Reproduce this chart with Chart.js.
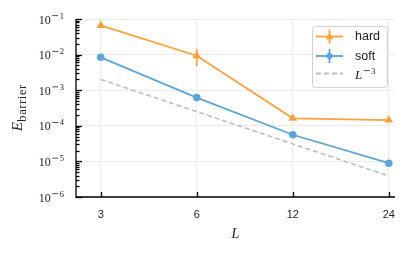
<!DOCTYPE html>
<html>
<head>
<meta charset="utf-8">
<script src="https://cdn.jsdelivr.net/npm/chart.js@4.4.1/dist/chart.umd.min.js"></script>
<style>
  html, body { margin: 0; padding: 0; background: #fff; }
</style>
</head>
<body>
<canvas id="chart" width="411" height="254"></canvas>
<script>
// --- data ---
const sizes = [3, 6, 12, 24];
const hard = [0.066, 0.0093, 1.62e-4, 1.45e-4];
const hardLo = [0.063, 0.0048, 1.56e-4, 1.40e-4];
const hardHi = [0.069, 0.0144, 1.68e-4, 1.50e-4];
const soft = [8.4e-3, 6.2e-4, 5.6e-5, 8.9e-6];
const softLo = [8.0e-3, 5.9e-4, 5.3e-5, 8.5e-6];
const softHi = [8.8e-3, 6.5e-4, 5.9e-5, 9.3e-6];
const guide = [2.0e-3, 2.5e-4, 3.1e-5, 3.9e-6];
const yExponents = [-6, -5, -4, -3, -2, -1];
const seriesLabels = ['hard', 'soft', 'L^-3'];

const ORANGE = '#f9a13b';
const BLUE = '#5ca4d9';
const GREY = '#bdbdbd';
const SERIF = '"Liberation Serif", "DejaVu Serif", serif';
const SANS = '"Liberation Sans", Arial, sans-serif';

const pts = (ys) => sizes.map((x, i) => ({ x: x, y: ys[i] }));

// base with a raised "−n" exponent; minus drawn a bit wider like TeX math
function drawPower(ctx, base, digit, x, y, baseFont, align) {
    ctx.save();
    ctx.textAlign = 'left';
    ctx.textBaseline = 'alphabetic';
    ctx.font = '8.5px ' + SERIF;
    const dw = ctx.measureText(digit).width;
    ctx.font = baseFont;
    const bw = ctx.measureText(base).width;
    const minusW = 6;
    const total = bw + 1.5 + minusW + 1.5 + dw;
    const left = align === 'right' ? x - total : x;
    ctx.fillText(base, left, y);
    const mx = left + bw + 1.5;
    ctx.fillRect(mx, y - 8.2, minusW, 0.8);
    ctx.font = '8.5px ' + SERIF;
    ctx.fillText(digit, mx + minusW + 1.5, y - 5);
    ctx.restore();
}

const axesDeco = {
    id: 'axesDeco',
    afterDatasetsDraw(chart) {
        const ctx = chart.ctx;
        const xs = chart.scales.x, ys = chart.scales.y;

        // error bars
        const bars = [[hardLo, hardHi, ORANGE], [softLo, softHi, BLUE]];
        ctx.save();
        ctx.lineWidth = 1.8;
        bars.forEach(([lo, hi, col]) => {
            ctx.strokeStyle = col;
            sizes.forEach((s, i) => {
                const px = xs.getPixelForValue(s);
                ctx.beginPath();
                ctx.moveTo(px, ys.getPixelForValue(lo[i]));
                ctx.lineTo(px, ys.getPixelForValue(hi[i]));
                ctx.stroke();
            });
        });
        ctx.restore();
    },
    afterDraw(chart) {
        const ctx = chart.ctx;
        const xs = chart.scales.x, ys = chart.scales.y;
        const area = chart.chartArea;
        ctx.save();
        ctx.strokeStyle = '#000';
        ctx.lineWidth = 1.3;

        // spines
        ctx.beginPath();
        ctx.moveTo(area.left, area.top);
        ctx.lineTo(area.left, area.bottom);
        ctx.lineTo(area.right, area.bottom);
        ctx.stroke();

        // inward ticks
        ys.ticks.forEach(t => {
            const py = Math.round(ys.getPixelForValue(t.value)) + 0.5;
            ctx.beginPath();
            ctx.moveTo(area.left, py);
            ctx.lineTo(area.left + (t.major ? 6 : 3.5), py);
            ctx.stroke();
        });
        xs.ticks.forEach(t => {
            const px = Math.round(xs.getPixelForValue(t.value)) + 0.5;
            ctx.beginPath();
            ctx.moveTo(px, area.bottom);
            ctx.lineTo(px, area.bottom - 5);
            ctx.stroke();
        });

        // y tick labels 10^n
        ctx.fillStyle = '#222';
        yExponents.forEach(e => {
            const py = ys.getPixelForValue(Math.pow(10, e));
            drawPower(ctx, '10', String(Math.abs(e)), 64, py + 4.5, '12px ' + SERIF, 'right');
        });

        // y title E_barrier
        ctx.save();
        ctx.translate(22, (area.top + area.bottom) / 2);
        ctx.rotate(-Math.PI / 2);
        ctx.font = 'italic 15px ' + SERIF;
        const ew = ctx.measureText('E').width;
        ctx.font = '12.5px ' + SERIF;
        ctx.letterSpacing = '0.6px';
        const bw = ctx.measureText('barrier').width;
        const start = -(ew + bw) / 2;
        ctx.textBaseline = 'alphabetic';
        ctx.fillText('barrier', start + ew + 0.5, 3.5);
        ctx.letterSpacing = '0px';
        ctx.font = 'italic 15px ' + SERIF;
        ctx.fillText('E', start, 0);
        ctx.restore();

        // x title
        ctx.font = 'italic 14px ' + SERIF;
        ctx.textAlign = 'center';
        ctx.fillText('L', (area.left + area.right) / 2, 238);

        // legend
        const lx = 312, ly = 26, lw = 75, lh = 61;
        ctx.fillStyle = 'rgba(255,255,255,0.85)';
        ctx.strokeStyle = '#d0d0d0';
        ctx.lineWidth = 1;
        ctx.beginPath();
        ctx.roundRect(lx + 0.5, ly + 0.5, lw, lh, 3);
        ctx.fill();
        ctx.stroke();

        const rows = [36.5, 56, 73.5];
        const cols = [ORANGE, BLUE, GREY];
        rows.forEach((ry, i) => {
            ctx.strokeStyle = cols[i];
            ctx.lineWidth = 1.8;
            ctx.setLineDash(i === 2 ? [5, 3] : []);
            ctx.beginPath();
            ctx.moveTo(316, ry);
            ctx.lineTo(343, ry);
            ctx.stroke();
            ctx.setLineDash([]);
            if (i < 2) {
                ctx.beginPath();
                ctx.moveTo(329.5, ry - 7);
                ctx.lineTo(329.5, ry + 7);
                ctx.stroke();
                ctx.fillStyle = cols[i];
                ctx.beginPath();
                if (i === 0) {
                    ctx.moveTo(329.5, ry - 3.8);
                    ctx.lineTo(333.3, ry + 2.7);
                    ctx.lineTo(325.7, ry + 2.7);
                    ctx.closePath();
                } else {
                    ctx.arc(329.5, ry, 3, 0, Math.PI * 2);
                }
                ctx.fill();
            }
            ctx.fillStyle = '#222';
            if (i < 2) {
                ctx.font = '12.5px ' + SANS;
                ctx.textAlign = 'left';
                ctx.textBaseline = 'middle';
                ctx.fillText(seriesLabels[i], 355, ry + 0.5);
            } else {
                drawPower(ctx, 'L', '3', 355, ry + 5, 'italic 13px ' + SERIF, 'left');
            }
        });
        ctx.restore();
    }
};

new Chart(document.getElementById('chart'), {
    type: 'line',
    data: {
        datasets: [
            { label: seriesLabels[0], data: pts(hard), borderColor: ORANGE, backgroundColor: ORANGE,
              borderWidth: 1.8, pointStyle: 'triangle', pointRadius: 5, pointBorderWidth: 0 },
            { label: seriesLabels[1], data: pts(soft), borderColor: BLUE, backgroundColor: BLUE,
              borderWidth: 1.8, pointStyle: 'circle', pointRadius: 3.8, pointBorderWidth: 0 },
            { label: seriesLabels[2], data: pts(guide), borderColor: GREY, backgroundColor: GREY,
              borderWidth: 1.6, borderDash: [5, 3], pointRadius: 0 }
        ]
    },
    options: {
        responsive: false,
        animation: false,
        devicePixelRatio: 1,
        layout: { padding: { top: 19, right: 16, left: 0, bottom: 0 } },
        plugins: { legend: { display: false }, tooltip: { enabled: false } },
        scales: {
            x: {
                type: 'logarithmic',
                min: 2.51, max: 25.1,
                afterBuildTicks: s => { s.ticks = sizes.map(v => ({ value: v })); },
                afterFit: s => { s.height = 57; },
                ticks: { autoSkip: false, maxRotation: 0, padding: 11, color: '#222',
                         font: { family: SANS, size: 11 }, callback: v => String(v) },
                grid: { color: '#ececec', lineWidth: 1, drawTicks: false },
                border: { display: false }
            },
            y: {
                type: 'logarithmic',
                min: 1e-6, max: 1e-1,
                afterBuildTicks: s => {
                    const t = [];
                    yExponents.forEach(e => {
                        const b = Math.pow(10, e);
                        t.push({ value: b, major: true });
                        if (e < -1) for (let m = 2; m < 10; m++) t.push({ value: m * b, major: false });
                    });
                    s.ticks = t;
                },
                afterFit: s => { s.width = 76; },
                ticks: { display: false },
                grid: { color: c => (c.tick && c.tick.major) ? '#ececec' : 'rgba(0,0,0,0)', lineWidth: 1, drawTicks: false },
                border: { display: false }
            }
        }
    },
    plugins: [axesDeco]
});
</script>
</body>
</html>
